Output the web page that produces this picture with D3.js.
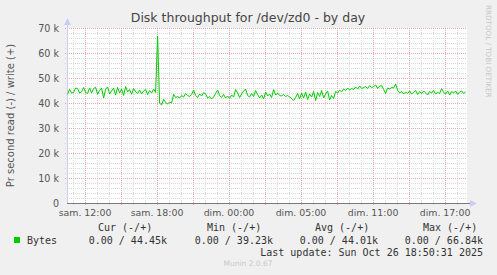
<!DOCTYPE html>
<html><head><meta charset="utf-8">
<script src="https://cdn.jsdelivr.net/npm/d3@7"></script>
<style>html,body{margin:0;padding:0;background:#f0f0f0;}svg{display:block;}</style>
</head><body>
<script>
// ---- data ----
const title = "Disk throughput for /dev/zd0 - by day";
const yLabel = "Pr second read (-) / write (+)";
const xTickHours = [0, 6, 12, 18, 24, 30];
const xTickLabels = ["sam. 12:00", "sam. 18:00", "dim. 00:00", "dim. 05:00", "dim. 11:00", "dim. 17:00"];
const yTicks = [0, 10000, 20000, 30000, 40000, 50000, 60000, 70000];
const yTickLabels = ["0", "10 k", "20 k", "30 k", "40 k", "50 k", "60 k", "70 k"];
const domainHours = [-1.5, 31.83];
const sampleStartHour = -1.45;
const sampleStepHours = 1 / 6;
// write throughput, in k bytes/s (read is 0)
const writeK = [
43.5,45.5,44.0,44.2,46.0,45.8,44.0,44.5,46.2,44.2,
43.8,46.0,44.0,45.8,46.3,43.5,45.0,46.0,42.0,45.5,
46.4,43.6,44.8,46.0,43.2,46.2,44.0,45.6,43.0,46.6,
44.4,45.4,43.5,45.8,44.5,43.8,45.2,43.6,44.8,45.5,
43.4,45.0,44.0,45.6,44.2,66.84,40.0,39.23,41.5,40.2,
39.6,40.4,40.0,43.5,42.2,42.6,42.0,43.0,42.4,43.8,
43.0,42.6,43.4,45.2,43.0,42.2,43.6,42.8,44.2,43.6,
42.0,42.6,41.6,42.4,43.8,45.2,43.0,42.2,43.4,42.0,
42.8,41.8,43.2,42.4,45.4,44.0,42.2,43.6,44.8,45.6,
43.0,42.4,43.8,42.6,45.0,43.4,42.0,43.2,41.6,44.4,
42.8,43.6,42.2,45.4,43.2,44.0,43.0,42.8,43.4,42.6,
43.0,42.4,41.8,41.0,42.2,43.8,41.6,44.0,42.0,44.4,
41.4,43.6,42.4,44.6,41.0,44.2,42.6,45.0,42.0,43.6,
44.8,41.2,43.0,41.8,44.6,44.0,45.2,44.4,45.6,45.0,
46.0,45.2,45.8,45.4,46.4,45.6,46.8,45.8,46.2,46.6,
45.8,47.0,46.2,46.6,47.2,45.8,46.8,47.0,45.4,43.8,
46.0,45.6,46.2,46.0,47.6,45.0,44.0,44.6,43.6,44.4,
43.8,44.8,43.6,44.2,45.0,43.4,44.6,43.8,44.8,44.0,
43.2,44.6,44.0,45.0,43.6,44.2,43.8,45.8,44.2,43.6,
44.8,43.2,44.6,44.0,44.8,43.4,44.4,44.8,43.8,44.45
];
const legendName = "Bytes";
const legendHeaders = ["Cur (-/+)", "Min (-/+)", "Avg (-/+)", "Max (-/+)"];
const legendValues = ["0.00 / 44.45k", "0.00 / 39.23k", "0.00 / 44.01k", "0.00 / 66.84k"];
const lastUpdate = "Last update: Sun Oct 26 18:50:31 2025";

// ---- drawing ----
const W = 497, H = 275;
const pLeft = 67, pRight = 467, pTop = 28, pBottom = 203;
const svg = d3.select("body").append("svg").attr("width", W).attr("height", H);
svg.append("rect").attr("width", W).attr("height", H).attr("fill", "#f0f0f0");

const x = d3.scaleLinear().domain(domainHours).range([pLeft, pRight]);
const y = d3.scaleLinear().domain([0, 70000]).range([pBottom, pTop]);

svg.append("rect").attr("x", pLeft).attr("y", pTop).attr("width", pRight - pLeft).attr("height", pBottom - pTop).attr("fill", "#ffffff");

const grid = svg.append("g");
const minorH = d3.range(-1, 32, 1).filter(h => h % 3 !== 0);
grid.selectAll(".vmin").data(minorH).enter().append("line")
  .attr("x1", d => Math.round(x(d)) + 0.5).attr("x2", d => Math.round(x(d)) + 0.5)
  .attr("y1", pTop).attr("y2", pBottom + 2)
  .attr("stroke", "#d8d8d8").attr("stroke-dasharray", "1,1");
const minorY = d3.range(2000, 70001, 2000).filter(v => v % 10000 !== 0);
grid.selectAll(".hmin").data(minorY).enter().append("line")
  .attr("x1", pLeft - 2).attr("x2", pRight)
  .attr("y1", d => Math.round(y(d)) + 0.5).attr("y2", d => Math.round(y(d)) + 0.5)
  .attr("stroke", "#d8d8d8").attr("stroke-dasharray", "1,1");
const majorH = d3.range(0, 31, 3);
grid.selectAll(".vmaj").data(majorH).enter().append("line")
  .attr("x1", d => Math.round(x(d)) + 0.5).attr("x2", d => Math.round(x(d)) + 0.5)
  .attr("y1", pTop).attr("y2", pBottom + 3)
  .attr("stroke", "#e3a9a9").attr("stroke-dasharray", "1,1");
grid.selectAll(".hmaj").data(yTicks.slice(1)).enter().append("line")
  .attr("x1", pLeft - 2).attr("x2", pRight)
  .attr("y1", d => Math.round(y(d)) + 0.5).attr("y2", d => Math.round(y(d)) + 0.5)
  .attr("stroke", "#e3a9a9").attr("stroke-dasharray", "1,1");

svg.append("line").attr("x1", pLeft + 0.5).attr("x2", pLeft + 0.5).attr("y1", pBottom).attr("y2", pTop - 4)
  .attr("stroke", "#c9cdf0");
svg.append("path").attr("d", `M${pLeft - 3},${pTop - 3} L${pLeft + 4},${pTop - 3} L${pLeft + 0.5},${pTop - 10} Z`).attr("fill", "#c9cdf8");
svg.append("line").attr("x1", pLeft).attr("x2", pRight + 3).attr("y1", pBottom + 0.5).attr("y2", pBottom + 0.5)
  .attr("stroke", "#7a7a80");
svg.append("path").attr("d", `M${pRight + 3},${pBottom - 3} L${pRight + 3},${pBottom + 4} L${pRight + 10},${pBottom + 0.5} Z`).attr("fill", "#c9cdf8");

svg.selectAll(".ylab").data(yTicks).enter().append("text")
  .attr("x", 59).attr("y", d => y(d) + 3.5)
  .attr("text-anchor", "end").attr("font-family", "DejaVu Sans").attr("font-size", 9.6)
  .attr("fill", "#555").text((d, i) => yTickLabels[i]);
svg.selectAll(".xlab").data(xTickHours).enter().append("text")
  .attr("x", d => x(d)).attr("y", 216)
  .attr("text-anchor", "middle").attr("font-family", "DejaVu Sans").attr("font-size", 9.4)
  .attr("fill", "#555").text((d, i) => xTickLabels[i]);

svg.append("text").attr("x", 248).attr("y", 22).attr("text-anchor", "middle")
  .attr("font-family", "DejaVu Sans").attr("font-size", 12.5).attr("fill", "#444").text(title);
svg.append("text").attr("transform", `translate(14,${(pTop + pBottom) / 2}) rotate(-90)`)
  .attr("text-anchor", "middle").attr("font-family", "DejaVu Sans").attr("font-size", 10)
  .attr("fill", "#555").text(yLabel);
svg.append("text").attr("transform", "translate(486,5) rotate(90)")
  .attr("font-family", "DejaVu Sans").attr("font-size", 7.2).attr("fill", "#c8c8c8")
  .text("RRDTOOL / TOBI OETIKER");

const pts = writeK.map((v, i) => ({ h: sampleStartHour + i * sampleStepHours, v: v * 1000 }));
svg.append("path").datum(pts)
  .attr("fill", "none").attr("stroke", "#00cc00").attr("stroke-width", 1)
  .attr("d", d3.line().x(d => x(d.h)).y(d => y(d.v)));

const mono = "DejaVu Sans Mono";
svg.append("rect").attr("x", 14).attr("y", 237).attr("width", 6).attr("height", 6).attr("fill", "#00cc00");
svg.append("text").attr("x", 27).attr("y", 244).attr("font-family", mono).attr("font-size", 10)
  .attr("fill", "#333").text(legendName);
const headerX = [98, 207, 315, 423];
const valueEnd = [167, 273, 378, 483];
svg.selectAll(".lh").data(legendHeaders).enter().append("text")
  .attr("x", (d, i) => headerX[i]).attr("y", 231).attr("font-family", mono).attr("font-size", 10)
  .attr("fill", "#333").text(d => d);
svg.selectAll(".lv").data(legendValues).enter().append("text")
  .attr("x", (d, i) => valueEnd[i]).attr("y", 244).attr("text-anchor", "end")
  .attr("font-family", mono).attr("font-size", 10).attr("fill", "#333").text(d => d);
svg.append("text").attr("x", 483).attr("y", 256).attr("text-anchor", "end")
  .attr("font-family", mono).attr("font-size", 10).attr("fill", "#333").text(lastUpdate);
svg.append("text").attr("x", 248).attr("y", 266).attr("text-anchor", "middle")
  .attr("font-family", "DejaVu Sans").attr("font-size", 7.5).attr("fill", "#c8c8c8").text("Munin 2.0.67");
</script>
</body></html>
